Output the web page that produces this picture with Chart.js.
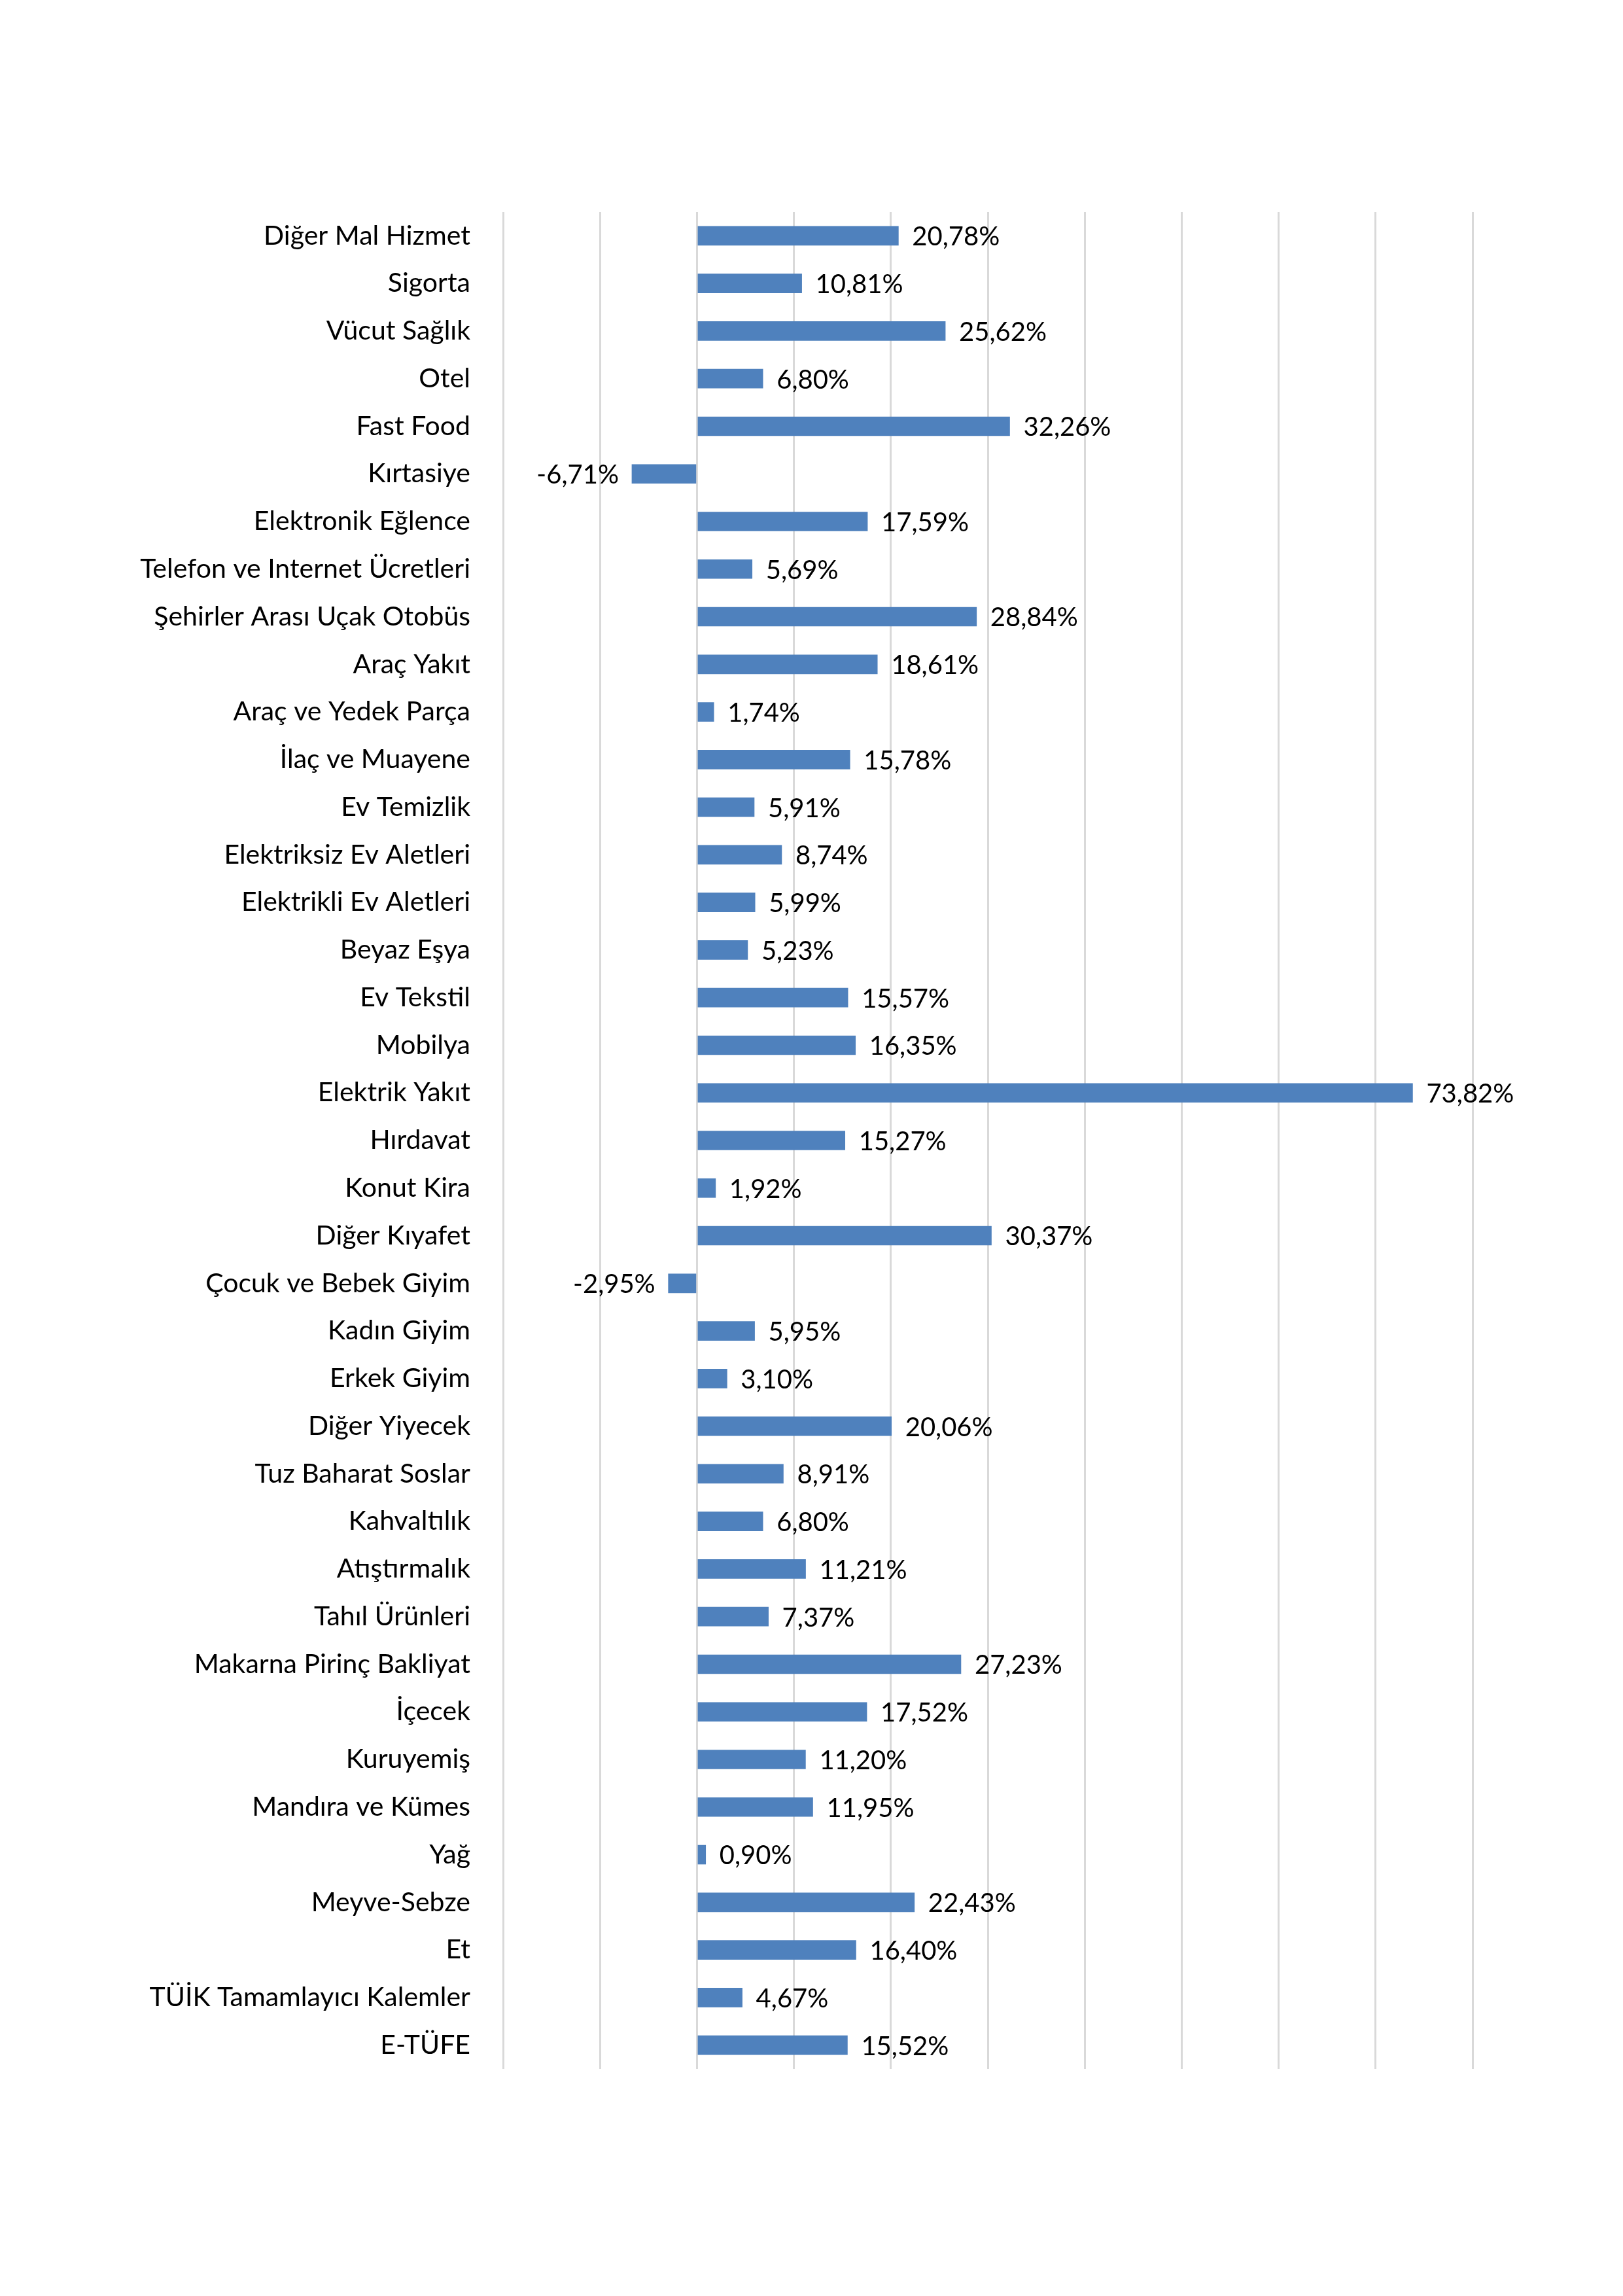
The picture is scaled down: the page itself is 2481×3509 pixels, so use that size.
<!DOCTYPE html>
<html>
<head>
<meta charset="utf-8">
<script src="https://cdn.jsdelivr.net/npm/chart.js@4.4.0/dist/chart.umd.min.js"></script>
<style>
  html, body { margin: 0; padding: 0; background: #fff; }
  canvas { display: block; }
</style>
</head>
<body>
<canvas id="chart1" width="2481" height="3509"></canvas>
<script>
const categories = [
  "Diğer Mal Hizmet", "Sigorta", "Vücut Sağlık", "Otel", "Fast Food",
  "Kırtasiye", "Elektronik Eğlence", "Telefon ve Internet Ücretleri",
  "Şehirler Arası Uçak Otobüs", "Araç Yakıt", "Araç ve Yedek Parça",
  "İlaç ve Muayene", "Ev Temizlik", "Elektriksiz Ev Aletleri",
  "Elektrikli Ev Aletleri", "Beyaz Eşya", "Ev Tekstil", "Mobilya",
  "Elektrik Yakıt", "Hırdavat", "Konut Kira", "Diğer Kıyafet",
  "Çocuk ve Bebek Giyim", "Kadın Giyim", "Erkek Giyim", "Diğer Yiyecek",
  "Tuz Baharat Soslar", "Kahvaltılık", "Atıştırmalık", "Tahıl Ürünleri",
  "Makarna Pirinç Bakliyat", "İçecek", "Kuruyemiş", "Mandıra ve Kümes",
  "Yağ", "Meyve-Sebze", "Et", "TÜİK Tamamlayıcı Kalemler", "E-TÜFE"
];

const changes = [
  20.78, 10.81, 25.62, 6.80, 32.26,
  -6.71, 17.59, 5.69,
  28.84, 18.61, 1.74,
  15.78, 5.91, 8.74,
  5.99, 5.23, 15.57, 16.35,
  73.82, 15.27, 1.92, 30.37,
  -2.95, 5.95, 3.10, 20.06,
  8.91, 6.80, 11.21, 7.37,
  27.23, 17.52, 11.20, 11.95,
  0.90, 22.43, 16.40, 4.67, 15.52
];

const axisMin = -20;
const axisMax = 80;
const axisStep = 10;

const fontFamily = "Lato, 'Open Sans', sans-serif";

// value labels next to each bar, Excel style "20,78%"
const valueLabels = {
  id: "valueLabels",
  afterDatasetsDraw(chart) {
    const ctx = chart.ctx;
    const meta = chart.getDatasetMeta(0);
    ctx.save();
    ctx.font = "40px " + fontFamily;
    ctx.fillStyle = "#000";
    ctx.textBaseline = "middle";
    meta.data.forEach((bar, i) => {
      const v = changes[i];
      const txt = v.toFixed(2).replace(".", ",") + "%";
      if (v >= 0) {
        ctx.textAlign = "left";
        ctx.fillText(txt, bar.x + 21, bar.y + 2);
      } else {
        ctx.textAlign = "right";
        ctx.fillText(txt, bar.x - 20, bar.y + 2);
      }
    });
    ctx.restore();
  },
};

var ctx = document.getElementById("chart1").getContext("2d");

var myChart = new Chart(ctx, {
  type: "bar",
  data: {
    labels: categories,
    datasets: [
      {
        data: changes,
        backgroundColor: "#4F81BD",
        borderWidth: 0,
        barThickness: 29,
      },
    ],
  },
  options: {
    indexAxis: "y",
    responsive: false,
    animation: false,
    layout: {
      padding: { left: 0, right: 230, top: 324, bottom: 347 },
    },
    plugins: {
      legend: { display: false },
      tooltip: { enabled: false },
    },
    scales: {
      x: {
        min: axisMin,
        max: axisMax,
        ticks: { display: false, stepSize: axisStep },
        grid: { color: "#d9d9d9", lineWidth: 3, drawTicks: false },
        border: { display: false },
      },
      y: {
        ticks: {
          color: "#000",
          padding: 50,
          autoSkip: false,
          font: { family: fontFamily, size: 41 },
        },
        grid: { display: false, drawTicks: false },
        border: { display: false },
        afterFit(scale) {
          scale.width = 769;
        },
      },
    },
  },
  plugins: [valueLabels],
});
</script>
</body>
</html>
